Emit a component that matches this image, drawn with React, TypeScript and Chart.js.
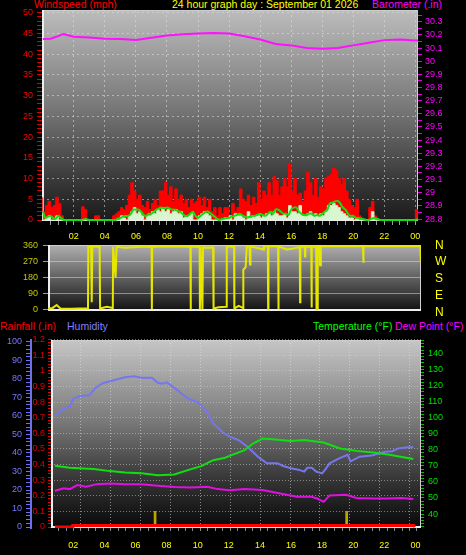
import React, { useEffect, useRef } from 'react';
import { Chart, registerables } from 'chart.js';

Chart.register(...registerables);

const FONT = 'Liberation Sans, Arial, Helvetica, sans-serif';
const W = 466;
const H = 555;

// ---------------- top panel: wind (10-minute record) + barometer
const WIND_STEP_HOURS = 1 / 6;
const windGust = [
  5.5, 2, 3.5, 4.5, 3, 3.5,
  5.5, 4, 1, 0, 0, 0,
  0, 0, 0, 0, 3.2, 2.5,
  0, 0, 0, 1, 1, 0,
  0, 0, 0, 0, 1, 1.5,
  2, 3, 2.5, 3.5, 6, 9,
  7, 5, 6, 3.5, 3, 4.5,
  2.5, 4, 5, 3.5, 7, 7,
  9, 6, 8, 4.5, 7.5, 5,
  6, 4, 5, 3, 5, 4,
  4.5, 5.5, 3.5, 5.5, 3, 5,
  2, 3, 1, 3, 1.5, 3,
  3, 1, 4, 2, 3, 7.5,
  5, 4.5, 6, 3.5, 5.5, 4,
  9, 5, 7, 6, 9, 6,
  10.5, 9.5, 6, 8, 10, 8,
  13.5, 7, 10, 6, 6.5, 4.5,
  7, 11.5, 9, 6, 10, 5.5,
  8, 7.5, 10, 10.5, 11, 12.5,
  12, 10, 8.5, 10, 7, 5,
  3.5, 3, 5, 1, 0.5, 0,
  0, 3, 4.5, 1, 0, 0,
  0, 0, 0, 0, 0, 0,
  0, 0, 0, 0, 0, 0,
  0, 2.5,
];
const windSpeed = [
  1.5, 0, 0.5, 1, 0, 0,
  1, 0, 0, 0, 0, 0,
  0, 0, 0, 0, 0, 0,
  0, 0, 0, 0, 0, 0,
  0, 0, 0, 0, 0, 0,
  0, 1, 0.5, 0, 1, 2,
  3, 1.5, 2, 1, 0, 1,
  1, 2, 1.5, 2.5, 2, 3,
  2, 2.5, 1.5, 2, 2.5, 1.5,
  2, 0.5, 1, 1, 1.5, 0,
  0, 1, 1.5, 2, 1.5, 1,
  0, 0, 0, 0, 0, 0.5,
  0.5, 1, 0, 1.5, 1, 1,
  0.5, 0, 2, 0.5, 1, 1,
  1, 0.5, 1, 1.5, 1.5, 1,
  2, 1.5, 1, 1, 1.5, 0.5,
  3.5, 2, 2, 1.5, 3.5, 1,
  1, 1.5, 2, 1, 1.5, 1,
  1.5, 1, 2, 3.5, 3.5, 4,
  3.5, 3, 2, 1.5, 1, 0.5,
  0.5, 0, 0.5, 0, 0, 0,
  0, 0, 2, 0, 0, 0,
  0, 0, 0, 0, 0, 0,
  0, 0, 0, 0, 0, 0,
  0, 0,
];
const windAvg = [
  2.2, 0.5, 0.8, 1, 0.5, 0.3,
  1, 0.5, 0, 0, 0, 0,
  0, 0, 0, 0, 0.2, 0.2,
  0, 0, 0, 0, 0, 0,
  0, 0, 0, 0, 0, 0.3,
  0.5, 0.8, 1, 1, 1.5, 2.5,
  2.5, 2.5, 2, 1.2, 1, 1.5,
  1.5, 2, 2.5, 2.8, 3, 2.8,
  3, 2.8, 2.5, 2.5, 2.2, 2,
  1.5, 1, 1, 1.5, 2, 1,
  0.5, 1, 1.5, 2, 2, 1.5,
  1, 0.5, 0, 0.2, 0.3, 0.5,
  0.5, 0.8, 1, 1.2, 1.5, 1.2,
  0.8, 0.6, 0.8, 1, 1, 1.3,
  1.5, 1.2, 1, 1.5, 2, 1.5,
  2.5, 2.5, 2, 1.5, 1.5, 1.2,
  2.5, 3, 3, 2, 1.5, 1.2,
  1.2, 1.5, 1.5, 1, 1.2, 1,
  1.5, 2, 2.5, 4, 4.2, 4.5,
  4.6, 4, 3, 2.5, 1.5, 1,
  1, 0.5, 0.5, 0.3, 0.2, 0,
  0, 0.3, 0.5, 0.4, 0.1, 0,
  0, 0, 0, 0, 0, 0,
  0, 0, 0, 0, 0, 0,
  0, 0.2,
];
const presTimes = [0, 0.5, 1, 1.33, 1.7, 2, 3, 4, 5, 6, 7, 8, 9, 10, 11, 12, 13, 14, 15, 16, 17, 18, 19, 20, 21, 22, 23, 24, 24.17];
const presVals = [30.168, 30.17, 30.19, 30.207, 30.195, 30.186, 30.18, 30.17, 30.168, 30.161, 30.178, 30.195, 30.205, 30.21, 30.215, 30.21, 30.19, 30.165, 30.13, 30.12, 30.1, 30.095, 30.1, 30.12, 30.14, 30.16, 30.165, 30.157, 30.157];

const windTickLabels = [0, 5, 10, 15, 20, 25, 30, 35, 40, 45, 50];
const presTickLabels = [28.8, 28.9, 29, 29.1, 29.2, 29.3, 29.4, 29.5, 29.6, 29.7, 29.8, 29.9, 30, 30.1, 30.2, 30.3];
const hourTicks = [2, 4, 6, 8, 10, 12, 14, 16, 18, 20, 22, 24];
const hourLabels = ['02', '04', '06', '08', '10', '12', '14', '16', '18', '20', '22', '00'];

// ---------------- middle panel: wind direction
const dirTimes = [0, 0.3, 0.56, 0.8, 1.5, 2.0, 2.58, 2.6, 2.78, 2.82, 2.86, 3.33, 3.36, 3.8, 4.18, 4.2, 4.36, 4.42, 5.0, 6.0, 6.68, 6.7, 6.72, 8.0, 9.18, 9.2, 9.22, 9.78, 9.8, 9.84, 9.96, 10.0, 10.1, 10.65, 10.68, 11.0, 11.5, 11.53, 12.0, 12.02, 12.3, 12.58, 12.6, 12.75, 12.82, 13.0, 13.03, 13.06, 13.9, 13.93, 14.18, 14.2, 14.22, 14.84, 14.86, 14.88, 15.4, 15.8, 16.24, 16.26, 16.28, 16.56, 16.58, 16.6, 16.98, 17.0, 17.02, 17.3, 17.32, 17.36, 17.4, 17.52, 17.55, 17.6, 20.32, 20.34, 20.36, 24.02, 24.05];
const dirVals = [5, 8, 25, 5, 3, 5, 5, 360, 355, 40, 358, 355, 5, 15, 8, 355, 180, 355, 350, 355, 355, 0, 355, 358, 355, 0, 355, 355, 0, 355, 0, 355, 350, 352, 5, 12, 15, 358, 355, 5, 20, 8, 225, 240, 360, 358, 255, 358, 340, 358, 358, 0, 358, 358, 0, 358, 340, 345, 355, 40, 355, 355, 300, 355, 355, 10, 355, 355, 0, 0, 355, 355, 250, 358, 358, 265, 358, 358, 270];
const dirTicks = [0, 90, 180, 270, 360];
const compassLabels = ['N', 'E', 'S', 'W', 'N'];

// ---------------- bottom panel: rain, humidity, temperature, dew point
const humTimes = [0, 0.3, 0.6, 1.0, 1.25, 1.7, 2.3, 2.7, 3.2, 4.0, 4.7, 5.3, 5.8, 6.5, 6.9, 7.2, 7.5, 8.0, 8.5, 8.9, 9.4, 9.8, 10.2, 10.6, 11.2, 11.7, 12.3, 12.9, 13.6, 14.2, 14.9, 15.3, 15.8, 16.3, 16.7, 16.9, 17.2, 17.5, 17.9, 18.1, 18.4, 19.0, 19.6, 19.8, 20.4, 21.2, 22.1, 22.6, 23.0, 23.5, 24.0];
const humVals = [60, 62, 64, 65, 69.5, 70.8, 71.2, 75, 77.7, 79.5, 80.9, 81.5, 80.7, 80.7, 78, 77.5, 78.2, 75.3, 72, 69.5, 68, 66, 62, 56, 51.5, 48.8, 47, 43.4, 38, 34.4, 34.4, 33, 31.7, 31, 29.9, 32, 32, 30, 29, 31, 34.4, 37, 39, 35.5, 38, 38.6, 40.7, 41, 42.5, 43, 43.2];
const tempTimes = [0, 1.0, 1.9, 2.6, 3.7, 4.7, 5.8, 6.9, 8.0, 8.9, 9.8, 10.6, 11.4, 11.7, 12.7, 13.3, 13.9, 14.6, 15.8, 16.7, 18.0, 19.1, 20.2, 21.3, 22.3, 24.0];
const tempVals = [70, 68.8, 68.4, 68, 66.7, 65.9, 65.3, 64.2, 64.6, 67.3, 69.8, 73.5, 75, 76.2, 79.8, 84, 87, 86.6, 85.5, 86, 84.5, 80.8, 79.3, 78.3, 77, 74.2];
const dewTimes = [0, 0.6, 1.0, 1.5, 2.1, 2.8, 3.7, 4.7, 5.8, 6.9, 8.0, 9.1, 10.2, 10.9, 11.7, 12.7, 13.9, 15.1, 16.2, 17.2, 17.6, 18.0, 18.4, 19.5, 20.2, 21.3, 22.3, 23.2, 24.0];
const dewVals = [54.5, 56, 55.5, 58, 57, 58.6, 59, 58.5, 58.6, 57.6, 56.8, 56.5, 57, 55.5, 54.8, 55.5, 54.9, 52.8, 50.7, 50.7, 49.5, 47.6, 51.6, 52, 50, 49.7, 49.7, 50, 49.3];
const rainTimes = [0, 1.18, 1.2, 24.03, 24.1];
const rainVals = [0, 0, 0.01, 0.01, 0];
const rateTimes = [6.71, 19.54];
const rateVals = [0.1, 0.1];

const humTickLabels = [0, 10, 20, 30, 40, 50, 60, 70, 80, 90, 100];
const rainTickLabels = [0, 0.1, 0.2, 0.3, 0.4, 0.5, 0.6, 0.7, 0.8, 0.9, 1, 1.1, 1.2];
const tempTickLabels = [40, 50, 60, 70, 80, 90, 100, 110, 120, 130, 140];

// ---------------- helpers
const range = (a: number, b: number, s: number) => {
  const out: number[] = [];
  const n = Math.round((b - a) / s);
  for (let i = 0; i <= n; i++) out.push(+(a + i * s).toFixed(4));
  return out;
};
const idxIn = (arr: number[], v: number) => arr.findIndex((t) => Math.abs(t - v) < 1e-6);
const pts = (xs: number[], ys: number[]) => xs.map((x, i) => ({ x, y: ys[i] }));
const series = (vals: number[]) => vals.map((y, i) => ({ x: +(i * WIND_STEP_HOURS).toFixed(4), y }));
const setTicks = (vals: number[]) => (scale: any) => {
  scale.ticks = vals.map((v) => ({ value: v }));
};
const fmt = (v: number) => String(+v.toFixed(2));
const font9 = { family: FONT, size: 9 };
const GRID = 'rgba(225,225,225,0.55)';

const panelPlugin = (stops: [number, string][]) => ({
  id: 'panelBg',
  beforeDraw(chart: any) {
    const { ctx, chartArea: a } = chart;
    const g = ctx.createLinearGradient(0, a.top, 0, a.bottom);
    stops.forEach(([o, c]) => g.addColorStop(o, c));
    ctx.save();
    ctx.fillStyle = g;
    ctx.fillRect(a.left, a.top, a.right - a.left, a.bottom - a.top);
    ctx.restore();
  },
  beforeDatasetsDraw(chart: any) {
    const { ctx, chartArea: a } = chart;
    ctx.save();
    ctx.strokeStyle = '#cfcfcf';
    ctx.lineWidth = 1;
    ctx.strokeRect(a.left + 0.5, a.top + 0.5, a.right - a.left - 1, a.bottom - a.top - 1);
    ctx.strokeStyle = '#eeeeee';
    ctx.lineWidth = 2;
    ctx.beginPath();
    ctx.moveTo(a.left + 1, a.top);
    ctx.lineTo(a.left + 1, a.bottom);
    ctx.moveTo(a.left, a.bottom - 1);
    ctx.lineTo(a.right, a.bottom - 1);
    ctx.stroke();
    ctx.restore();
  },
});

const baseOptions = (padding: any) => ({
  responsive: false,
  animation: false as const,
  devicePixelRatio: 1,
  events: [],
  layout: { padding },
  plugins: { legend: { display: false }, tooltip: { enabled: false }, title: { display: false } },
  elements: { point: { radius: 0 } },
});

const topConfig = () => ({
  type: 'line',
  data: {
    datasets: [
      { data: series(windGust), borderColor: '#ff0000', backgroundColor: '#ff0000', borderWidth: 1, fill: 'origin', stepped: 'after', yAxisID: 'y', order: 4 },
      { data: series(windSpeed), borderColor: '#c8f0c0', backgroundColor: '#d8f6d0', borderWidth: 1, fill: 'origin', stepped: 'after', yAxisID: 'y', order: 3 },
      { data: series(windAvg), borderColor: '#10e010', borderWidth: 2, fill: false, tension: 0.25, yAxisID: 'y', order: 2 },
      { data: pts(presTimes, presVals), borderColor: '#ff10ff', borderWidth: 2, fill: false, yAxisID: 'yp', order: 1 },
    ],
  },
  options: {
    ...baseOptions({ top: 10, bottom: 310, left: 0, right: 0 }),
    scales: {
      x: {
        type: 'linear', min: -0.05, max: 24.17,
        afterBuildTicks: setTicks(range(0.5, 24, 0.5)),
        afterFit: (s: any) => { s.height = 24; },
        ticks: {
          autoSkip: false, maxRotation: 0, color: '#ffff00', font: font9, padding: 6,
          callback: (v: number) => { const i = idxIn(hourTicks, v); return i >= 0 ? hourLabels[i] : ''; },
        },
        grid: {
          color: (c: any) => (c.tick && idxIn(hourTicks, c.tick.value) >= 0 ? GRID : 'transparent'),
          tickColor: '#9a9a9a', tickLength: 4, lineWidth: 1,
        },
        border: { display: false, dash: [2, 3] },
      },
      y: {
        type: 'linear', position: 'left', min: -0.24, max: 50.67,
        afterBuildTicks: setTicks(range(0, 50, 1)),
        afterFit: (s: any) => { s.width = 42; },
        ticks: {
          autoSkip: false, color: '#ff0000', font: font9, padding: 4,
          callback: (v: number) => (idxIn(windTickLabels, v) >= 0 ? String(v) : ''),
        },
        grid: {
          color: (c: any) => (c.tick && c.tick.value > 0 && idxIn(windTickLabels, c.tick.value) >= 0 ? GRID : 'transparent'),
          tickColor: '#e00000', tickLength: 5,
        },
        border: { display: false, dash: [2, 3] },
      },
      yp: {
        type: 'linear', position: 'right', min: 28.785, max: 30.389,
        afterBuildTicks: setTicks(range(28.8, 30.35, 0.05)),
        afterFit: (s: any) => { s.width = 48; },
        ticks: {
          autoSkip: false, color: '#ff00ff', font: font9, padding: 3,
          callback: (v: number) => (idxIn(presTickLabels, v) >= 0 ? fmt(v) : ''),
        },
        grid: { drawOnChartArea: false, tickColor: '#e000e0', tickLength: 4 },
        border: { display: false },
      },
    },
  },
  plugins: [panelPlugin([[0, '#bcbcbc'], [0.45, '#7a7a7a'], [0.8, '#3a3a3a'], [1, '#1a1a1a']])],
});

const midConfig = () => ({
  type: 'line',
  data: {
    datasets: [
      { data: pts(dirTimes, dirVals), borderColor: '#e6e600', borderWidth: 2, fill: false, yAxisID: 'y' },
    ],
  },
  options: {
    ...baseOptions({ top: 245, bottom: 244, left: 0, right: 0 }),
    scales: {
      x: { type: 'linear', display: false, min: 0, max: 24.06 },
      y: {
        type: 'linear', position: 'left', min: -9.5, max: 365.6,
        afterBuildTicks: setTicks(dirTicks),
        afterFit: (s: any) => { s.width = 48; },
        ticks: { autoSkip: false, color: '#c8c800', font: font9, padding: 5, callback: (v: number) => String(v) },
        grid: {
          color: (c: any) => (c.tick && c.tick.value > 0 && c.tick.value < 360 ? 'rgba(215,215,215,0.55)' : 'transparent'),
          tickColor: '#b0b000', tickLength: 5,
        },
        border: { display: false },
      },
      y2: {
        type: 'linear', position: 'right', min: 10.6, max: 361,
        afterBuildTicks: setTicks(dirTicks),
        afterFit: (s: any) => { s.width = 45; },
        ticks: {
          autoSkip: false, color: '#ffff00', font: { family: FONT, size: 12 }, padding: 14,
          callback: (v: number) => compassLabels[idxIn(dirTicks, v)] || '',
        },
        grid: { drawOnChartArea: false, drawTicks: false },
        border: { display: false },
      },
    },
  },
  plugins: [panelPlugin([[0, '#b0b0b0'], [0.5, '#606060'], [1, '#111111']])],
});

const botConfig = () => ({
  type: 'line',
  data: {
    datasets: [
      { type: 'bar', data: pts(rateTimes, rateVals), backgroundColor: '#b8a800', barThickness: 2, yAxisID: 'yr', xAxisID: 'x', order: 6 },
      { data: pts(humTimes, humVals), borderColor: '#7676ee', borderWidth: 2, fill: false, yAxisID: 'yh', order: 4 },
      { data: pts(dewTimes, dewVals), borderColor: '#e010e0', borderWidth: 2, fill: false, yAxisID: 'yt', order: 3 },
      { data: pts(tempTimes, tempVals), borderColor: '#10e010', borderWidth: 2, fill: false, yAxisID: 'yt', order: 2 },
      { data: pts(rainTimes, rainVals), borderColor: '#ff0000', borderWidth: 3, fill: false, yAxisID: 'yr', order: 1 },
    ],
  },
  options: {
    ...baseOptions({ top: 340, bottom: 0, left: 0, right: 0 }),
    scales: {
      x: {
        type: 'linear', position: 'bottom', weight: 0, min: 0, max: 24.26,
        afterBuildTicks: setTicks(range(0.5, 24, 0.5)),
        afterFit: (s: any) => { s.height = 4; },
        ticks: { display: false, autoSkip: false },
        grid: {
          color: (c: any) => (c.tick && idxIn(hourTicks, c.tick.value) >= 0 ? GRID : 'transparent'),
          tickColor: '#8a8a8a', tickLength: 3,
        },
        border: { display: false, dash: [1, 2] },
      },
      xl: {
        type: 'linear', position: 'bottom', weight: 1, min: 0.566, max: 24.36,
        afterBuildTicks: setTicks(hourTicks),
        afterFit: (s: any) => { s.height = 23; },
        ticks: {
          autoSkip: false, maxRotation: 0, color: '#ffff00', font: font9, padding: 8,
          callback: (v: number) => hourLabels[idxIn(hourTicks, v)] || '',
        },
        grid: { display: false, drawTicks: false },
        border: { display: false },
      },
      yh: {
        type: 'linear', position: 'left', weight: 1, min: -0.54, max: 101.08,
        afterBuildTicks: setTicks(range(0, 100, 2)),
        afterFit: (s: any) => { s.width = 31; },
        ticks: {
          autoSkip: false, color: '#7878ff', font: font9, padding: 4,
          callback: (v: number) => (idxIn(humTickLabels, v) >= 0 ? String(v) : ''),
        },
        grid: { drawOnChartArea: false, tickColor: '#6e6ef0', tickLength: 5 },
        border: { display: true, color: '#6e6ef0', width: 2 },
      },
      yr: {
        type: 'linear', position: 'left', weight: 0, min: -0.0064, max: 1.197,
        afterBuildTicks: setTicks(range(0, 1.2, 0.02)),
        afterFit: (s: any) => { s.width = 20; },
        ticks: {
          autoSkip: false, color: '#e00000', font: font9, padding: 3,
          callback: (v: number) => (idxIn(rainTickLabels, v) >= 0 ? fmt(v) : ''),
        },
        grid: {
          color: (c: any) => (c.tick && c.tick.value > 0 && idxIn(rainTickLabels, c.tick.value) >= 0 ? 'rgba(215,215,215,0.5)' : 'transparent'),
          tickColor: '#e00000', tickLength: 3,
        },
        border: { display: false, dash: [1, 2] },
      },
      yt: {
        type: 'linear', position: 'right', min: 31.3, max: 148.3,
        afterBuildTicks: setTicks(range(32, 148, 2)),
        afterFit: (s: any) => { s.width = 45; },
        ticks: {
          autoSkip: false, color: '#00e000', font: font9, padding: 4,
          callback: (v: number) => (idxIn(tempTickLabels, v) >= 0 ? String(v) : ''),
        },
        grid: { drawOnChartArea: false, tickColor: '#00c000', tickLength: 3 },
        border: { display: false },
      },
    },
  },
  plugins: [panelPlugin([[0, '#c6c6c6'], [0.45, '#767676'], [0.75, '#343434'], [1, '#080808']])],
});

function PanelCanvas({ make }: { make: () => any }) {
  const ref = useRef<HTMLCanvasElement | null>(null);
  useEffect(() => {
    const chart = new Chart(ref.current as HTMLCanvasElement, make());
    return () => chart.destroy();
  }, []);
  return (
    <canvas
      ref={ref}
      width={W}
      height={H}
      style={{ position: 'absolute', left: 0, top: 0, width: W, height: H }}
    />
  );
}

const titleStyle = (left: number, top: number, color: string): React.CSSProperties => ({
  position: 'absolute', left, top, color, fontFamily: FONT, fontSize: 10.5, lineHeight: '11px', whiteSpace: 'nowrap',
});

export default function App() {
  return (
    <div style={{ position: 'fixed', left: 0, top: 0, width: W, height: H, background: '#000', overflow: 'hidden' }}>
      <span style={titleStyle(34, -1, '#ff0000')}>Windspeed (mph)</span>
      <span style={titleStyle(172, -1, '#ffff00')}>24 hour graph day : September 01 2026</span>
      <span style={titleStyle(372, -1, '#ff00ff')}>Barometer (.in)</span>
      <span style={titleStyle(0, 321, '#ff0000')}>Rainfall (.in)</span>
      <span style={titleStyle(67, 321, '#8080ff')}>Humidity</span>
      <span style={titleStyle(313, 321, '#00ff00')}>Temperature (°F)</span>
      <span style={titleStyle(395, 321, '#ff00ff')}>Dew Point (°F)</span>
      <PanelCanvas make={topConfig} />
      <PanelCanvas make={midConfig} />
      <PanelCanvas make={botConfig} />
    </div>
  );
}
